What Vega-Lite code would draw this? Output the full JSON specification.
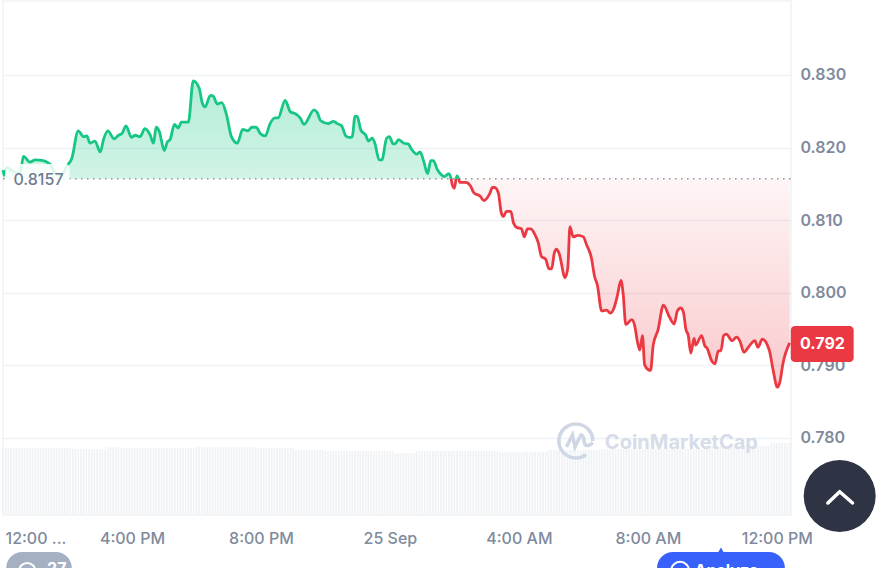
{
"$schema":"https://vega.github.io/schema/vega-lite/v6.json",
"width":788,"height":514,
"autosize":{"type":"none"},
"padding":{"left":3,"top":1,"right":100,"bottom":53},
"background":"white",
"view":{"stroke":"#eff2f5","strokeWidth":1.5},
"datasets":{
"price":[
{"t":"2023-09-24T12:00Z","p":0.8169,"seg":"up1"},{"t":"2023-09-24T12:02Z","p":0.8162,"seg":"up1"},{"t":"2023-09-24T12:08Z","p":0.8173,"seg":"up1"},{"t":"2023-09-24T12:19Z","p":0.8167,"seg":"up1"},{"t":"2023-09-24T12:32Z","p":0.8165,"seg":"up1"},{"t":"2023-09-24T12:38Z","p":0.8188,"seg":"up1"},{"t":"2023-09-24T12:50Z","p":0.818,"seg":"up1"},{"t":"2023-09-24T13:00Z","p":0.8183,"seg":"up1"},{"t":"2023-09-24T13:15Z","p":0.8182,"seg":"up1"},{"t":"2023-09-24T13:24Z","p":0.8179,"seg":"up1"},{"t":"2023-09-24T13:28Z","p":0.8177,"seg":"up1"},{"t":"2023-09-24T13:37Z","p":0.8165,"seg":"up1"},{"t":"2023-09-24T13:49Z","p":0.8162,"seg":"up1"},{"t":"2023-09-24T13:58Z","p":0.8174,"seg":"up1"},{"t":"2023-09-24T14:08Z","p":0.8185,"seg":"up1"},{"t":"2023-09-24T14:20Z","p":0.8223,"seg":"up1"},{"t":"2023-09-24T14:30Z","p":0.8215,"seg":"up1"},{"t":"2023-09-24T14:36Z","p":0.8216,"seg":"up1"},{"t":"2023-09-24T14:42Z","p":0.8206,"seg":"up1"},{"t":"2023-09-24T14:51Z","p":0.8209,"seg":"up1"},{"t":"2023-09-24T15:01Z","p":0.8194,"seg":"up1"},{"t":"2023-09-24T15:07Z","p":0.8211,"seg":"up1"},{"t":"2023-09-24T15:15Z","p":0.8223,"seg":"up1"},{"t":"2023-09-24T15:27Z","p":0.8212,"seg":"up1"},{"t":"2023-09-24T15:35Z","p":0.8217,"seg":"up1"},{"t":"2023-09-24T15:41Z","p":0.8219,"seg":"up1"},{"t":"2023-09-24T15:49Z","p":0.823,"seg":"up1"},{"t":"2023-09-24T15:59Z","p":0.8214,"seg":"up1"},{"t":"2023-09-24T16:06Z","p":0.8217,"seg":"up1"},{"t":"2023-09-24T16:15Z","p":0.8215,"seg":"up1"},{"t":"2023-09-24T16:24Z","p":0.8226,"seg":"up1"},{"t":"2023-09-24T16:34Z","p":0.8217,"seg":"up1"},{"t":"2023-09-24T16:40Z","p":0.8206,"seg":"up1"},{"t":"2023-09-24T16:45Z","p":0.8228,"seg":"up1"},{"t":"2023-09-24T16:51Z","p":0.8222,"seg":"up1"},{"t":"2023-09-24T17:00Z","p":0.8196,"seg":"up1"},{"t":"2023-09-24T17:06Z","p":0.8208,"seg":"up1"},{"t":"2023-09-24T17:11Z","p":0.8211,"seg":"up1"},{"t":"2023-09-24T17:19Z","p":0.8232,"seg":"up1"},{"t":"2023-09-24T17:26Z","p":0.8227,"seg":"up1"},{"t":"2023-09-24T17:32Z","p":0.8235,"seg":"up1"},{"t":"2023-09-24T17:45Z","p":0.8235,"seg":"up1"},{"t":"2023-09-24T17:54Z","p":0.8292,"seg":"up1"},{"t":"2023-09-24T18:05Z","p":0.8282,"seg":"up1"},{"t":"2023-09-24T18:11Z","p":0.8261,"seg":"up1"},{"t":"2023-09-24T18:16Z","p":0.8256,"seg":"up1"},{"t":"2023-09-24T18:26Z","p":0.8272,"seg":"up1"},{"t":"2023-09-24T18:31Z","p":0.8271,"seg":"up1"},{"t":"2023-09-24T18:39Z","p":0.826,"seg":"up1"},{"t":"2023-09-24T18:47Z","p":0.8262,"seg":"up1"},{"t":"2023-09-24T18:56Z","p":0.8245,"seg":"up1"},{"t":"2023-09-24T19:05Z","p":0.8215,"seg":"up1"},{"t":"2023-09-24T19:16Z","p":0.8206,"seg":"up1"},{"t":"2023-09-24T19:26Z","p":0.8225,"seg":"up1"},{"t":"2023-09-24T19:36Z","p":0.8223,"seg":"up1"},{"t":"2023-09-24T19:43Z","p":0.8228,"seg":"up1"},{"t":"2023-09-24T19:51Z","p":0.8228,"seg":"up1"},{"t":"2023-09-24T19:59Z","p":0.8219,"seg":"up1"},{"t":"2023-09-24T20:08Z","p":0.8216,"seg":"up1"},{"t":"2023-09-24T20:17Z","p":0.8233,"seg":"up1"},{"t":"2023-09-24T20:26Z","p":0.8241,"seg":"up1"},{"t":"2023-09-24T20:32Z","p":0.8241,"seg":"up1"},{"t":"2023-09-24T20:45Z","p":0.8265,"seg":"up1"},{"t":"2023-09-24T20:55Z","p":0.8249,"seg":"up1"},{"t":"2023-09-24T21:03Z","p":0.8247,"seg":"up1"},{"t":"2023-09-24T21:13Z","p":0.8241,"seg":"up1"},{"t":"2023-09-24T21:20Z","p":0.8232,"seg":"up1"},{"t":"2023-09-24T21:39Z","p":0.8252,"seg":"up1"},{"t":"2023-09-24T21:45Z","p":0.8248,"seg":"up1"},{"t":"2023-09-24T21:51Z","p":0.8237,"seg":"up1"},{"t":"2023-09-24T22:05Z","p":0.8233,"seg":"up1"},{"t":"2023-09-24T22:15Z","p":0.8236,"seg":"up1"},{"t":"2023-09-24T22:22Z","p":0.8233,"seg":"up1"},{"t":"2023-09-24T22:30Z","p":0.823,"seg":"up1"},{"t":"2023-09-24T22:38Z","p":0.8216,"seg":"up1"},{"t":"2023-09-24T22:44Z","p":0.8214,"seg":"up1"},{"t":"2023-09-24T22:50Z","p":0.8215,"seg":"up1"},{"t":"2023-09-24T22:55Z","p":0.8243,"seg":"up1"},{"t":"2023-09-24T22:59Z","p":0.8243,"seg":"up1"},{"t":"2023-09-24T23:06Z","p":0.8224,"seg":"up1"},{"t":"2023-09-24T23:15Z","p":0.8217,"seg":"up1"},{"t":"2023-09-24T23:20Z","p":0.8209,"seg":"up1"},{"t":"2023-09-24T23:27Z","p":0.8213,"seg":"up1"},{"t":"2023-09-24T23:32Z","p":0.8206,"seg":"up1"},{"t":"2023-09-24T23:40Z","p":0.8183,"seg":"up1"},{"t":"2023-09-24T23:45Z","p":0.8183,"seg":"up1"},{"t":"2023-09-24T23:54Z","p":0.8213,"seg":"up1"},{"t":"2023-09-24T23:59Z","p":0.8215,"seg":"up1"},{"t":"2023-09-25T00:06Z","p":0.8205,"seg":"up1"},{"t":"2023-09-25T00:11Z","p":0.8206,"seg":"up1"},{"t":"2023-09-25T00:16Z","p":0.8211,"seg":"up1"},{"t":"2023-09-25T00:26Z","p":0.8206,"seg":"up1"},{"t":"2023-09-25T00:34Z","p":0.8205,"seg":"up1"},{"t":"2023-09-25T00:40Z","p":0.8198,"seg":"up1"},{"t":"2023-09-25T00:50Z","p":0.8191,"seg":"up1"},{"t":"2023-09-25T00:56Z","p":0.8194,"seg":"up1"},{"t":"2023-09-25T01:03Z","p":0.8181,"seg":"up1"},{"t":"2023-09-25T01:10Z","p":0.8164,"seg":"up1"},{"t":"2023-09-25T01:16Z","p":0.8182,"seg":"up1"},{"t":"2023-09-25T01:21Z","p":0.8182,"seg":"up1"},{"t":"2023-09-25T01:28Z","p":0.817,"seg":"up1"},{"t":"2023-09-25T01:38Z","p":0.8161,"seg":"up1"},{"t":"2023-09-25T01:41Z","p":0.816,"seg":"up1"},{"t":"2023-09-25T01:50Z","p":0.8164,"seg":"up1"},{"t":"2023-09-25T01:54Z","p":0.8157,"seg":"up1"},
{"t":"2023-09-25T01:54Z","p":0.8157,"seg":"down1"},{"t":"2023-09-25T01:56Z","p":0.8149,"seg":"down1"},{"t":"2023-09-25T02:00Z","p":0.8144,"seg":"down1"},{"t":"2023-09-25T02:03Z","p":0.8157,"seg":"down1"},
{"t":"2023-09-25T02:03Z","p":0.8157,"seg":"up2"},{"t":"2023-09-25T02:05Z","p":0.8161,"seg":"up2"},{"t":"2023-09-25T02:08Z","p":0.8157,"seg":"up2"},
{"t":"2023-09-25T02:08Z","p":0.8157,"seg":"down2"},{"t":"2023-09-25T02:10Z","p":0.8152,"seg":"down2"},{"t":"2023-09-25T02:21Z","p":0.8152,"seg":"down2"},{"t":"2023-09-25T02:30Z","p":0.8147,"seg":"down2"},{"t":"2023-09-25T02:36Z","p":0.8138,"seg":"down2"},{"t":"2023-09-25T02:48Z","p":0.8133,"seg":"down2"},{"t":"2023-09-25T02:55Z","p":0.8127,"seg":"down2"},{"t":"2023-09-25T03:06Z","p":0.8137,"seg":"down2"},{"t":"2023-09-25T03:11Z","p":0.8145,"seg":"down2"},{"t":"2023-09-25T03:15Z","p":0.8145,"seg":"down2"},{"t":"2023-09-25T03:22Z","p":0.8137,"seg":"down2"},{"t":"2023-09-25T03:27Z","p":0.8111,"seg":"down2"},{"t":"2023-09-25T03:31Z","p":0.8105,"seg":"down2"},{"t":"2023-09-25T03:37Z","p":0.8112,"seg":"down2"},{"t":"2023-09-25T03:45Z","p":0.8112,"seg":"down2"},{"t":"2023-09-25T03:50Z","p":0.8096,"seg":"down2"},{"t":"2023-09-25T03:56Z","p":0.809,"seg":"down2"},{"t":"2023-09-25T04:05Z","p":0.8088,"seg":"down2"},{"t":"2023-09-25T04:10Z","p":0.8077,"seg":"down2"},{"t":"2023-09-25T04:16Z","p":0.8088,"seg":"down2"},{"t":"2023-09-25T04:22Z","p":0.8088,"seg":"down2"},{"t":"2023-09-25T04:30Z","p":0.808,"seg":"down2"},{"t":"2023-09-25T04:36Z","p":0.8069,"seg":"down2"},{"t":"2023-09-25T04:42Z","p":0.805,"seg":"down2"},{"t":"2023-09-25T04:50Z","p":0.8046,"seg":"down2"},{"t":"2023-09-25T04:56Z","p":0.8033,"seg":"down2"},{"t":"2023-09-25T05:01Z","p":0.8033,"seg":"down2"},{"t":"2023-09-25T05:06Z","p":0.8055,"seg":"down2"},{"t":"2023-09-25T05:10Z","p":0.806,"seg":"down2"},{"t":"2023-09-25T05:15Z","p":0.8054,"seg":"down2"},{"t":"2023-09-25T05:26Z","p":0.8021,"seg":"down2"},{"t":"2023-09-25T05:31Z","p":0.8034,"seg":"down2"},{"t":"2023-09-25T05:35Z","p":0.8091,"seg":"down2"},{"t":"2023-09-25T05:41Z","p":0.8077,"seg":"down2"},{"t":"2023-09-25T05:50Z","p":0.8079,"seg":"down2"},{"t":"2023-09-25T06:00Z","p":0.8077,"seg":"down2"},{"t":"2023-09-25T06:06Z","p":0.8066,"seg":"down2"},{"t":"2023-09-25T06:15Z","p":0.8048,"seg":"down2"},{"t":"2023-09-25T06:21Z","p":0.8022,"seg":"down2"},{"t":"2023-09-25T06:26Z","p":0.8011,"seg":"down2"},{"t":"2023-09-25T06:34Z","p":0.7975,"seg":"down2"},{"t":"2023-09-25T06:43Z","p":0.7976,"seg":"down2"},{"t":"2023-09-25T06:51Z","p":0.7972,"seg":"down2"},{"t":"2023-09-25T06:57Z","p":0.7979,"seg":"down2"},{"t":"2023-09-25T07:03Z","p":0.7995,"seg":"down2"},{"t":"2023-09-25T07:10Z","p":0.8017,"seg":"down2"},{"t":"2023-09-25T07:14Z","p":0.7999,"seg":"down2"},{"t":"2023-09-25T07:19Z","p":0.7956,"seg":"down2"},{"t":"2023-09-25T07:30Z","p":0.7963,"seg":"down2"},{"t":"2023-09-25T07:36Z","p":0.7953,"seg":"down2"},{"t":"2023-09-25T07:40Z","p":0.7935,"seg":"down2"},{"t":"2023-09-25T07:45Z","p":0.7921,"seg":"down2"},{"t":"2023-09-25T07:50Z","p":0.7941,"seg":"down2"},{"t":"2023-09-25T07:54Z","p":0.7901,"seg":"down2"},{"t":"2023-09-25T08:01Z","p":0.7894,"seg":"down2"},{"t":"2023-09-25T08:05Z","p":0.7893,"seg":"down2"},{"t":"2023-09-25T08:10Z","p":0.7928,"seg":"down2"},{"t":"2023-09-25T08:19Z","p":0.7949,"seg":"down2"},{"t":"2023-09-25T08:29Z","p":0.7983,"seg":"down2"},{"t":"2023-09-25T08:40Z","p":0.7967,"seg":"down2"},{"t":"2023-09-25T08:49Z","p":0.7957,"seg":"down2"},{"t":"2023-09-25T08:55Z","p":0.7975,"seg":"down2"},{"t":"2023-09-25T09:01Z","p":0.7979,"seg":"down2"},{"t":"2023-09-25T09:06Z","p":0.7974,"seg":"down2"},{"t":"2023-09-25T09:11Z","p":0.7949,"seg":"down2"},{"t":"2023-09-25T09:15Z","p":0.7942,"seg":"down2"},{"t":"2023-09-25T09:20Z","p":0.7917,"seg":"down2"},{"t":"2023-09-25T09:26Z","p":0.7937,"seg":"down2"},{"t":"2023-09-25T09:29Z","p":0.7928,"seg":"down2"},{"t":"2023-09-25T09:40Z","p":0.7941,"seg":"down2"},{"t":"2023-09-25T09:46Z","p":0.7927,"seg":"down2"},{"t":"2023-09-25T09:50Z","p":0.7924,"seg":"down2"},{"t":"2023-09-25T09:59Z","p":0.7906,"seg":"down2"},{"t":"2023-09-25T10:05Z","p":0.7902,"seg":"down2"},{"t":"2023-09-25T10:11Z","p":0.792,"seg":"down2"},{"t":"2023-09-25T10:16Z","p":0.792,"seg":"down2"},{"t":"2023-09-25T10:21Z","p":0.7941,"seg":"down2"},{"t":"2023-09-25T10:26Z","p":0.7943,"seg":"down2"},{"t":"2023-09-25T10:37Z","p":0.7934,"seg":"down2"},{"t":"2023-09-25T10:45Z","p":0.7939,"seg":"down2"},{"t":"2023-09-25T10:51Z","p":0.7934,"seg":"down2"},{"t":"2023-09-25T10:59Z","p":0.7918,"seg":"down2"},{"t":"2023-09-25T11:07Z","p":0.7925,"seg":"down2"},{"t":"2023-09-25T11:19Z","p":0.7934,"seg":"down2"},{"t":"2023-09-25T11:25Z","p":0.7925,"seg":"down2"},{"t":"2023-09-25T11:33Z","p":0.7936,"seg":"down2"},{"t":"2023-09-25T11:46Z","p":0.7921,"seg":"down2"},{"t":"2023-09-25T11:53Z","p":0.7894,"seg":"down2"},{"t":"2023-09-25T12:01Z","p":0.787,"seg":"down2"},{"t":"2023-09-25T12:06Z","p":0.7878,"seg":"down2"},{"t":"2023-09-25T12:11Z","p":0.7901,"seg":"down2"},{"t":"2023-09-25T12:24Z","p":0.7931,"seg":"down2"}
],
"volume":[
{"t":"2023-09-24T12:00Z","v":67},{"t":"2023-09-24T12:05Z","v":67},{"t":"2023-09-24T12:10Z","v":67},{"t":"2023-09-24T12:15Z","v":67},{"t":"2023-09-24T12:20Z","v":67},{"t":"2023-09-24T12:25Z","v":67},{"t":"2023-09-24T12:30Z","v":67},{"t":"2023-09-24T12:35Z","v":67},{"t":"2023-09-24T12:40Z","v":67},{"t":"2023-09-24T12:45Z","v":67},{"t":"2023-09-24T12:50Z","v":67},{"t":"2023-09-24T12:55Z","v":67},
{"t":"2023-09-24T13:00Z","v":67},{"t":"2023-09-24T13:05Z","v":67},{"t":"2023-09-24T13:10Z","v":67},{"t":"2023-09-24T13:15Z","v":67},{"t":"2023-09-24T13:20Z","v":67},{"t":"2023-09-24T13:25Z","v":67},{"t":"2023-09-24T13:30Z","v":67},{"t":"2023-09-24T13:35Z","v":67},{"t":"2023-09-24T13:40Z","v":67},{"t":"2023-09-24T13:45Z","v":67},{"t":"2023-09-24T13:50Z","v":67},{"t":"2023-09-24T13:55Z","v":67},
{"t":"2023-09-24T14:00Z","v":67},{"t":"2023-09-24T14:05Z","v":66},{"t":"2023-09-24T14:10Z","v":66},{"t":"2023-09-24T14:15Z","v":66},{"t":"2023-09-24T14:20Z","v":66},{"t":"2023-09-24T14:25Z","v":66},{"t":"2023-09-24T14:30Z","v":66},{"t":"2023-09-24T14:35Z","v":66},{"t":"2023-09-24T14:40Z","v":66},{"t":"2023-09-24T14:45Z","v":66},{"t":"2023-09-24T14:50Z","v":66},{"t":"2023-09-24T14:55Z","v":66},
{"t":"2023-09-24T15:00Z","v":66},{"t":"2023-09-24T15:05Z","v":66},{"t":"2023-09-24T15:10Z","v":66},{"t":"2023-09-24T15:15Z","v":68},{"t":"2023-09-24T15:20Z","v":68},{"t":"2023-09-24T15:25Z","v":68},{"t":"2023-09-24T15:30Z","v":68},{"t":"2023-09-24T15:35Z","v":68},{"t":"2023-09-24T15:40Z","v":67},{"t":"2023-09-24T15:45Z","v":67},{"t":"2023-09-24T15:50Z","v":67},{"t":"2023-09-24T15:55Z","v":67},
{"t":"2023-09-24T16:00Z","v":67},{"t":"2023-09-24T16:05Z","v":67},{"t":"2023-09-24T16:10Z","v":67},{"t":"2023-09-24T16:15Z","v":67},{"t":"2023-09-24T16:20Z","v":67},{"t":"2023-09-24T16:25Z","v":67},{"t":"2023-09-24T16:30Z","v":67},{"t":"2023-09-24T16:35Z","v":67},{"t":"2023-09-24T16:40Z","v":67},{"t":"2023-09-24T16:45Z","v":67},{"t":"2023-09-24T16:50Z","v":67},{"t":"2023-09-24T16:55Z","v":67},
{"t":"2023-09-24T17:00Z","v":67},{"t":"2023-09-24T17:05Z","v":67},{"t":"2023-09-24T17:10Z","v":67},{"t":"2023-09-24T17:15Z","v":67},{"t":"2023-09-24T17:20Z","v":67},{"t":"2023-09-24T17:25Z","v":67},{"t":"2023-09-24T17:30Z","v":67},{"t":"2023-09-24T17:35Z","v":67},{"t":"2023-09-24T17:40Z","v":67},{"t":"2023-09-24T17:45Z","v":67},{"t":"2023-09-24T17:50Z","v":67},{"t":"2023-09-24T17:55Z","v":67},
{"t":"2023-09-24T18:00Z","v":68},{"t":"2023-09-24T18:05Z","v":68},{"t":"2023-09-24T18:10Z","v":68},{"t":"2023-09-24T18:15Z","v":68},{"t":"2023-09-24T18:20Z","v":68},{"t":"2023-09-24T18:25Z","v":68},{"t":"2023-09-24T18:30Z","v":68},{"t":"2023-09-24T18:35Z","v":68},{"t":"2023-09-24T18:40Z","v":68},{"t":"2023-09-24T18:45Z","v":68},{"t":"2023-09-24T18:50Z","v":68},{"t":"2023-09-24T18:55Z","v":68},
{"t":"2023-09-24T19:00Z","v":68},{"t":"2023-09-24T19:05Z","v":68},{"t":"2023-09-24T19:10Z","v":68},{"t":"2023-09-24T19:15Z","v":68},{"t":"2023-09-24T19:20Z","v":68},{"t":"2023-09-24T19:25Z","v":68},{"t":"2023-09-24T19:30Z","v":68},{"t":"2023-09-24T19:35Z","v":68},{"t":"2023-09-24T19:40Z","v":68},{"t":"2023-09-24T19:45Z","v":68},{"t":"2023-09-24T19:50Z","v":67},{"t":"2023-09-24T19:55Z","v":67},
{"t":"2023-09-24T20:00Z","v":67},{"t":"2023-09-24T20:05Z","v":67},{"t":"2023-09-24T20:10Z","v":67},{"t":"2023-09-24T20:15Z","v":67},{"t":"2023-09-24T20:20Z","v":67},{"t":"2023-09-24T20:25Z","v":67},{"t":"2023-09-24T20:30Z","v":67},{"t":"2023-09-24T20:35Z","v":67},{"t":"2023-09-24T20:40Z","v":67},{"t":"2023-09-24T20:45Z","v":67},{"t":"2023-09-24T20:50Z","v":67},{"t":"2023-09-24T20:55Z","v":67},
{"t":"2023-09-24T21:00Z","v":67},{"t":"2023-09-24T21:05Z","v":65},{"t":"2023-09-24T21:10Z","v":65},{"t":"2023-09-24T21:15Z","v":65},{"t":"2023-09-24T21:20Z","v":65},{"t":"2023-09-24T21:25Z","v":65},{"t":"2023-09-24T21:30Z","v":65},{"t":"2023-09-24T21:35Z","v":65},{"t":"2023-09-24T21:40Z","v":65},{"t":"2023-09-24T21:45Z","v":65},{"t":"2023-09-24T21:50Z","v":65},{"t":"2023-09-24T21:55Z","v":65},
{"t":"2023-09-24T22:00Z","v":64},{"t":"2023-09-24T22:05Z","v":64},{"t":"2023-09-24T22:10Z","v":64},{"t":"2023-09-24T22:15Z","v":64},{"t":"2023-09-24T22:20Z","v":64},{"t":"2023-09-24T22:25Z","v":64},{"t":"2023-09-24T22:30Z","v":64},{"t":"2023-09-24T22:35Z","v":64},{"t":"2023-09-24T22:40Z","v":64},{"t":"2023-09-24T22:45Z","v":64},{"t":"2023-09-24T22:50Z","v":64},{"t":"2023-09-24T22:55Z","v":64},
{"t":"2023-09-24T23:00Z","v":64},{"t":"2023-09-24T23:05Z","v":64},{"t":"2023-09-24T23:10Z","v":64},{"t":"2023-09-24T23:15Z","v":64},{"t":"2023-09-24T23:20Z","v":64},{"t":"2023-09-24T23:25Z","v":64},{"t":"2023-09-24T23:30Z","v":64},{"t":"2023-09-24T23:35Z","v":64},{"t":"2023-09-24T23:40Z","v":64},{"t":"2023-09-24T23:45Z","v":64},{"t":"2023-09-24T23:50Z","v":64},{"t":"2023-09-24T23:55Z","v":64},
{"t":"2023-09-25T00:00Z","v":64},{"t":"2023-09-25T00:05Z","v":64},{"t":"2023-09-25T00:10Z","v":62},{"t":"2023-09-25T00:15Z","v":62},{"t":"2023-09-25T00:20Z","v":62},{"t":"2023-09-25T00:25Z","v":62},{"t":"2023-09-25T00:30Z","v":62},{"t":"2023-09-25T00:35Z","v":62},{"t":"2023-09-25T00:40Z","v":62},{"t":"2023-09-25T00:45Z","v":62},{"t":"2023-09-25T00:50Z","v":64},{"t":"2023-09-25T00:55Z","v":64},
{"t":"2023-09-25T01:00Z","v":64},{"t":"2023-09-25T01:05Z","v":64},{"t":"2023-09-25T01:10Z","v":64},{"t":"2023-09-25T01:15Z","v":64},{"t":"2023-09-25T01:20Z","v":64},{"t":"2023-09-25T01:25Z","v":64},{"t":"2023-09-25T01:30Z","v":64},{"t":"2023-09-25T01:35Z","v":64},{"t":"2023-09-25T01:40Z","v":64},{"t":"2023-09-25T01:45Z","v":64},{"t":"2023-09-25T01:50Z","v":64},{"t":"2023-09-25T01:55Z","v":64},
{"t":"2023-09-25T02:00Z","v":64},{"t":"2023-09-25T02:05Z","v":64},{"t":"2023-09-25T02:10Z","v":64},{"t":"2023-09-25T02:15Z","v":64},{"t":"2023-09-25T02:20Z","v":64},{"t":"2023-09-25T02:25Z","v":64},{"t":"2023-09-25T02:30Z","v":64},{"t":"2023-09-25T02:35Z","v":64},{"t":"2023-09-25T02:40Z","v":64},{"t":"2023-09-25T02:45Z","v":64},{"t":"2023-09-25T02:50Z","v":64},{"t":"2023-09-25T02:55Z","v":64},
{"t":"2023-09-25T03:00Z","v":64},{"t":"2023-09-25T03:05Z","v":64},{"t":"2023-09-25T03:10Z","v":64},{"t":"2023-09-25T03:15Z","v":64},{"t":"2023-09-25T03:20Z","v":64},{"t":"2023-09-25T03:25Z","v":63},{"t":"2023-09-25T03:30Z","v":63},{"t":"2023-09-25T03:35Z","v":63},{"t":"2023-09-25T03:40Z","v":63},{"t":"2023-09-25T03:45Z","v":63},{"t":"2023-09-25T03:50Z","v":63},{"t":"2023-09-25T03:55Z","v":63},
{"t":"2023-09-25T04:00Z","v":63},{"t":"2023-09-25T04:05Z","v":63},{"t":"2023-09-25T04:10Z","v":63},{"t":"2023-09-25T04:15Z","v":63},{"t":"2023-09-25T04:20Z","v":63},{"t":"2023-09-25T04:25Z","v":63},{"t":"2023-09-25T04:30Z","v":63},{"t":"2023-09-25T04:35Z","v":63},{"t":"2023-09-25T04:40Z","v":63},{"t":"2023-09-25T04:45Z","v":63},{"t":"2023-09-25T04:50Z","v":63},{"t":"2023-09-25T04:55Z","v":65},
{"t":"2023-09-25T05:00Z","v":65},{"t":"2023-09-25T05:05Z","v":65},{"t":"2023-09-25T05:10Z","v":65},{"t":"2023-09-25T05:15Z","v":65},{"t":"2023-09-25T05:20Z","v":65},{"t":"2023-09-25T05:25Z","v":65},{"t":"2023-09-25T05:30Z","v":65},{"t":"2023-09-25T05:35Z","v":65},{"t":"2023-09-25T05:40Z","v":65},{"t":"2023-09-25T05:45Z","v":65},{"t":"2023-09-25T05:50Z","v":65},{"t":"2023-09-25T05:55Z","v":65},
{"t":"2023-09-25T06:00Z","v":65},{"t":"2023-09-25T06:05Z","v":65},{"t":"2023-09-25T06:10Z","v":65},{"t":"2023-09-25T06:15Z","v":65},{"t":"2023-09-25T06:20Z","v":65},{"t":"2023-09-25T06:25Z","v":65},{"t":"2023-09-25T06:30Z","v":65},{"t":"2023-09-25T06:35Z","v":66},{"t":"2023-09-25T06:40Z","v":66},{"t":"2023-09-25T06:45Z","v":66},{"t":"2023-09-25T06:50Z","v":66},{"t":"2023-09-25T06:55Z","v":66},
{"t":"2023-09-25T07:00Z","v":66},{"t":"2023-09-25T07:05Z","v":66},{"t":"2023-09-25T07:10Z","v":66},{"t":"2023-09-25T07:15Z","v":66},{"t":"2023-09-25T07:20Z","v":66},{"t":"2023-09-25T07:25Z","v":66},{"t":"2023-09-25T07:30Z","v":66},{"t":"2023-09-25T07:35Z","v":66},{"t":"2023-09-25T07:40Z","v":66},{"t":"2023-09-25T07:45Z","v":66},{"t":"2023-09-25T07:50Z","v":66},{"t":"2023-09-25T07:55Z","v":66},
{"t":"2023-09-25T08:00Z","v":66},{"t":"2023-09-25T08:05Z","v":66},{"t":"2023-09-25T08:10Z","v":66},{"t":"2023-09-25T08:15Z","v":66},{"t":"2023-09-25T08:20Z","v":66},{"t":"2023-09-25T08:25Z","v":66},{"t":"2023-09-25T08:30Z","v":66},{"t":"2023-09-25T08:35Z","v":66},{"t":"2023-09-25T08:40Z","v":66},{"t":"2023-09-25T08:45Z","v":66},{"t":"2023-09-25T08:50Z","v":66},{"t":"2023-09-25T08:55Z","v":66},
{"t":"2023-09-25T09:00Z","v":66},{"t":"2023-09-25T09:05Z","v":66},{"t":"2023-09-25T09:10Z","v":66},{"t":"2023-09-25T09:15Z","v":66},{"t":"2023-09-25T09:20Z","v":66},{"t":"2023-09-25T09:25Z","v":66},{"t":"2023-09-25T09:30Z","v":66},{"t":"2023-09-25T09:35Z","v":66},{"t":"2023-09-25T09:40Z","v":66},{"t":"2023-09-25T09:45Z","v":69},{"t":"2023-09-25T09:50Z","v":69},{"t":"2023-09-25T09:55Z","v":69},
{"t":"2023-09-25T10:00Z","v":69},{"t":"2023-09-25T10:05Z","v":69},{"t":"2023-09-25T10:10Z","v":69},{"t":"2023-09-25T10:15Z","v":69},{"t":"2023-09-25T10:20Z","v":69},{"t":"2023-09-25T10:25Z","v":69},{"t":"2023-09-25T10:30Z","v":69},{"t":"2023-09-25T10:35Z","v":69},{"t":"2023-09-25T10:40Z","v":69},{"t":"2023-09-25T10:45Z","v":69},{"t":"2023-09-25T10:50Z","v":69},{"t":"2023-09-25T10:55Z","v":69},
{"t":"2023-09-25T11:00Z","v":69},{"t":"2023-09-25T11:05Z","v":69},{"t":"2023-09-25T11:10Z","v":69},{"t":"2023-09-25T11:15Z","v":69},{"t":"2023-09-25T11:20Z","v":69},{"t":"2023-09-25T11:25Z","v":69},{"t":"2023-09-25T11:30Z","v":69},{"t":"2023-09-25T11:35Z","v":69},{"t":"2023-09-25T11:40Z","v":69},{"t":"2023-09-25T11:45Z","v":69},{"t":"2023-09-25T11:50Z","v":72},{"t":"2023-09-25T11:55Z","v":72},
{"t":"2023-09-25T12:00Z","v":72},{"t":"2023-09-25T12:05Z","v":72},{"t":"2023-09-25T12:10Z","v":72},{"t":"2023-09-25T12:15Z","v":72},{"t":"2023-09-25T12:20Z","v":72},{"t":"2023-09-25T12:25Z","v":72}
]
},
"encoding":{
"x":{"field":"t","type":"temporal","title":null,
"scale":{"type":"utc","domain":[1695556800000,1695644784000],"padding":0},
"axis":{"values":[1695556800000,1695571200000,1695585600000,1695600000000,1695614400000,1695628800000,1695643200000],"grid":false,"ticks":false,"domain":false,"labelFont":"Inter","labelFontSize":16,"labelFontWeight":500,"labelColor":"#808a9d","labelPadding":15,"labelFlush":1,"labelFlushOffset":-2,"labelOverlap":false,
"labelExpr":"datum.index==0 ? '12:00 ...' : (utchours(datum.value)==0 ? utcFormat(datum.value,'%-d %b') : utcFormat(datum.value,'%-I:%M %p'))"}},
"y":{"field":"p","type":"quantitative","title":null,"axis":null,"scale":{"domain":[0.76939,0.84019],"zero":false,"nice":false}}
},
"layer":[
{"data":{"name":"volume"},
"mark":{"type":"bar","width":1.8,"color":"#f0f3f6"},
"encoding":{"y":{"field":"v","type":"quantitative","axis":null,"scale":{"domain":[0,514]}}}},
{"data":{"name":"price"},"transform":[{"filter":"indexof(datum.seg,'up')==0"}],
"mark":{"type":"area","interpolate":"monotone","fill":{"gradient":"linear","x1":0,"y1":0,"x2":0,"y2":1,"stops":[{"offset":0,"color":"rgba(22,199,132,0.32)"},{"offset":1,"color":"rgba(22,199,132,0.2)"}]}},
"encoding":{
"y":{"field":"p","type":"quantitative","title":null,"scale":{"domain":[0.76939,0.84019],"zero":false,"nice":false},
"axis":{"orient":"right","values":[0.78,0.79,0.8,0.81,0.82,0.83],"format":".3f","grid":true,"gridColor":"#eff2f5","gridWidth":1.5,"ticks":false,"domain":false,"labelFont":"Inter","labelFontSize":16,"labelFontWeight":600,"labelColor":"#808a9d","labelPadding":9}},
"y2":{"datum":0.8157},"detail":{"field":"seg"}}},
{"data":{"name":"price"},"transform":[{"filter":"indexof(datum.seg,'down')==0"}],
"mark":{"type":"area","interpolate":"monotone","fill":{"gradient":"linear","x1":0,"y1":0,"x2":0,"y2":1,"stops":[{"offset":0,"color":"rgba(234,57,67,0.05)"},{"offset":1,"color":"rgba(234,57,67,0.27)"}]}},
"encoding":{"y2":{"datum":0.8157},"detail":{"field":"seg"}}},
{"data":{"values":[{"t":"2023-09-24T12:00Z","t2":"2023-09-25T12:26Z","p":0.8157}],"format":{"parse":{"t":"date","t2":"date"}}},
"mark":{"type":"rule","color":"#8a93a6","strokeWidth":1.5,"strokeDash":[1.5,4.5]},
"encoding":{"x2":{"field":"t2"}}},
{"data":{"name":"price"},
"mark":{"type":"line","interpolate":"monotone","strokeWidth":2.8,"strokeJoin":"round"},
"encoding":{"color":{"field":"seg","type":"nominal","legend":null,"scale":{"domain":["up1","down1","up2","down2"],"range":["#16c784","#ea3943","#16c784","#ea3943"]}}}},
{"data":{"values":[{"t":"2023-09-24T12:04Z","t2":"2023-09-24T14:04Z","p":0.81774,"p2":0.81388}],"format":{"parse":{"t":"date","t2":"date"}}},
"mark":{"type":"rect","color":"white","opacity":0.86,"cornerRadius":4},
"encoding":{"x2":{"field":"t2"},"y2":{"field":"p2"}}},
{"data":{"values":[{"t":"2023-09-24T13:06Z","p":0.81547,"label":"0.8157"}]},
"mark":{"type":"text","font":"Inter","fontSize":16,"fontWeight":500,"color":"#6e7a92"},
"encoding":{"text":{"field":"label"}}},
{"data":{"values":[{"t":"2023-09-25T12:26Z","t2":"2023-09-25T14:23Z","p":0.79543,"p2":0.79047}],"format":{"parse":{"t":"date","t2":"date"}}},
"mark":{"type":"rect","color":"#ea3943","cornerRadius":4},
"encoding":{"x2":{"field":"t2"},"y2":{"field":"p2"}}},
{"data":{"values":[{"t":"2023-09-25T13:25Z","p":0.79295,"label":"0.792"}]},
"mark":{"type":"text","font":"Inter","fontSize":16,"fontWeight":700,"color":"white"},
"encoding":{"text":{"field":"label"}}},
{"data":{"values":[{"t":"2023-09-25T05:46Z","p":0.77959,"label":"logo"}]},
"mark":{"type":"point","filled":false,"stroke":"#cfd6e4","strokeWidth":3.5,"opacity":1,"size":1156,"shape":"M0.6 0.8A1 1 0 1 1 1 0M-0.55 0.35L-0.2 -0.35L-0.05 0.35L0.3 -0.35Q0.45 -0.4 0.5 0.1Q0.6 0.45 1 0.1"},"encoding":{}},
{"data":{"values":[{"t":"2023-09-25T06:40Z","p":0.77931,"label":"CoinMarketCap"}]},
"mark":{"type":"text","font":"Inter","fontSize":20,"fontWeight":700,"align":"left","color":"#d6dce8"},
"encoding":{"text":{"field":"label"}}},
{"data":{"values":[{"t":"2023-09-25T13:57Z","p":0.77201}]},
"mark":{"type":"point","filled":true,"opacity":1,"size":5184,"color":"#2e3443"},"encoding":{}},
{"data":{"values":[{"t":"2023-09-25T13:35Z","p":0.77105},{"t":"2023-09-25T13:57Z","p":0.7726},{"t":"2023-09-25T14:21Z","p":0.77105}]},
"mark":{"type":"line","color":"white","strokeWidth":3.5,"strokeCap":"round","strokeJoin":"round"},"encoding":{}},
{"data":{"values":[{"t":"2023-09-24T12:06Z","t2":"2023-09-24T14:08Z","p":0.7643,"p2":0.7591}],"format":{"parse":{"t":"date","t2":"date"}}},
"mark":{"type":"rect","color":"#a6b0c3","cornerRadius":16},
"encoding":{"x2":{"field":"t2"},"y2":{"field":"p2"}}},
{"data":{"values":[{"t":"2023-09-24T12:45Z","p":0.76168}]},
"mark":{"type":"point","filled":false,"stroke":"white","strokeWidth":2,"opacity":1,"size":256},"encoding":{}},
{"data":{"values":[{"t":"2023-09-24T13:40Z","p":0.76196,"label":"27"}]},
"mark":{"type":"text","font":"Inter","fontSize":16,"fontWeight":700,"color":"white"},
"encoding":{"text":{"field":"label"}}},
{"data":{"values":[{"t":"2023-09-25T10:16Z","p":0.7643}]},
"mark":{"type":"point","filled":true,"shape":"triangle-up","opacity":1,"size":100,"color":"#3861fb"},"encoding":{}},
{"data":{"values":[{"t":"2023-09-25T08:17Z","t2":"2023-09-25T12:15Z","p":0.7643,"p2":0.7591}],"format":{"parse":{"t":"date","t2":"date"}}},
"mark":{"type":"rect","color":"#3861fb","cornerRadius":16},
"encoding":{"x2":{"field":"t2"},"y2":{"field":"p2"}}},
{"data":{"values":[{"t":"2023-09-25T09:00Z","p":0.7617}]},
"mark":{"type":"point","filled":false,"stroke":"white","strokeWidth":2,"opacity":1,"size":324},"encoding":{}},
{"data":{"values":[{"t":"2023-09-25T09:27Z","p":0.76168,"label":"Analyze"}]},
"mark":{"type":"text","font":"Inter","fontSize":16,"fontWeight":700,"align":"left","color":"white"},
"encoding":{"text":{"field":"label"}}}
],
"resolve":{"scale":{"y":"independent"}}
}
